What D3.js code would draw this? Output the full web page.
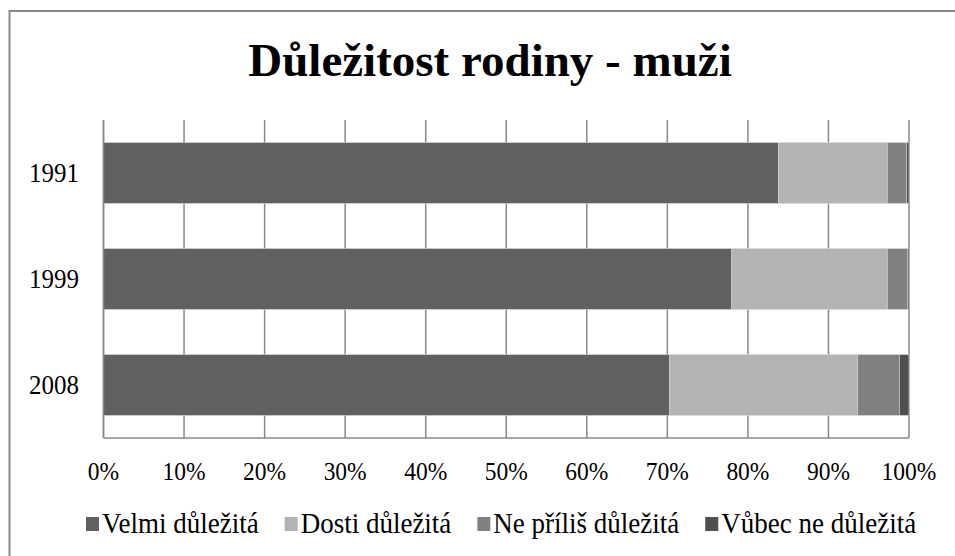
<!DOCTYPE html>
<html>
<head>
<meta charset="utf-8">
<script src="https://cdn.jsdelivr.net/npm/d3@7"></script>
<style>
  body { margin: 0; background: #fff; }
  svg { display: block; }
  text { font-family: "Liberation Serif", "Times New Roman", serif; fill: #000; }
</style>
</head>
<body>
<div id="chart"></div>
<script>
// data (percent of respondents)
const years = ['1991', '1999', '2008'];
const seriesNames = ['Velmi důležitá', 'Dosti důležitá', 'Ne příliš důležitá', 'Vůbec ne důležitá'];
const velmi = [83.8, 78.0, 70.3];
const dosti = [13.5, 19.3, 23.3];
const nePrilis = [2.4, 2.5, 5.2];
const vubec = [0.3, 0.2, 1.2];
const tickValues = [0, 10, 20, 30, 40, 50, 60, 70, 80, 90, 100];
const colors = ['#606060', '#b3b3b3', '#808080', '#4f4f4f'];

const width = 955, height = 556;
const margin = { top: 120, left: 103.5, right: 46, bottom: 118 };

const svg = d3.select('#chart').append('svg')
    .attr('width', width)
    .attr('height', height);

// outer frame, only left and top edges fall inside the picture
svg.append('rect')
    .attr('x', 9.5).attr('y', 11)
    .attr('width', 1000).attr('height', 700)
    .attr('fill', 'none')
    .attr('stroke', '#898989')
    .attr('stroke-width', 2);

svg.append('text')
    .attr('x', 490).attr('y', 76)
    .attr('text-anchor', 'middle')
    .style('font-size', '47px')
    .style('font-weight', 'bold')
    .text('Důležitost rodiny - muži');

const x = d3.scaleLinear().domain([0, 100]).range([margin.left, width - margin.right]);
const y = d3.scaleBand().domain(years)
    .range([margin.top, height - margin.bottom])
    .paddingInner(0.425).paddingOuter(0.2125);

// gridlines
svg.append('g')
    .selectAll('line')
    .data(tickValues)
    .join('line')
    .attr('x1', d => x(d)).attr('x2', d => x(d))
    .attr('y1', margin.top).attr('y2', height - margin.bottom)
    .attr('stroke', '#888')
    .attr('stroke-width', 1.5);

// stacked bars
const stackData = years.map((yr, i) => {
    const vals = [velmi[i], dosti[i], nePrilis[i], vubec[i]];
    const o = { year: yr };
    seriesNames.forEach((s, k) => o[s] = vals[k]);
    return o;
});
const stacked = d3.stack().keys(seriesNames)(stackData);

svg.append('g')
    .selectAll('g')
    .data(stacked)
    .join('g')
    .attr('fill', (d, i) => colors[i])
    .selectAll('rect')
    .data(d => d)
    .join('rect')
    .attr('x', d => x(d[0]))
    .attr('y', d => y(d.data.year))
    .attr('width', d => x(d[1]) - x(d[0]))
    .attr('height', y.bandwidth())
    .attr('stroke', '#d9d9d9')
    .attr('stroke-width', 0.6);

// axis lines
svg.append('line')
    .attr('x1', x(0)).attr('x2', x(100))
    .attr('y1', height - margin.bottom).attr('y2', height - margin.bottom)
    .attr('stroke', '#888').attr('stroke-width', 1.5);
svg.append('line')
    .attr('x1', x(0)).attr('x2', x(0))
    .attr('y1', margin.top).attr('y2', height - margin.bottom)
    .attr('stroke', '#888').attr('stroke-width', 1.5);

// x tick labels (slightly tall glyphs like the original)
svg.append('g')
    .selectAll('text')
    .data(tickValues)
    .join('text')
    .attr('transform', d => `translate(${x(d)},480) scale(1,1.1)`)
    .attr('text-anchor', 'middle')
    .style('font-size', '23.5px')
    .text(d => d + '%');

// y labels
svg.append('g')
    .selectAll('text')
    .data(years)
    .join('text')
    .attr('transform', d => `translate(79,${y(d) + y.bandwidth() / 2 + 8.5}) scale(1,1.05)`)
    .attr('text-anchor', 'end')
    .style('font-size', '25px')
    .text(d => d);

// legend
const legend = svg.append('g');
let lx = 86;
seriesNames.forEach((s, i) => {
    const g = legend.append('g').attr('transform', `translate(${lx},0)`);
    g.append('rect')
        .attr('x', 0).attr('y', 517)
        .attr('width', 13).attr('height', 14)
        .attr('fill', colors[i]);
    const t = g.append('text')
        .attr('transform', 'translate(16,533) scale(1,1.1)')
        .style('font-size', '27px')
        .text(s);
    lx += 16 + t.node().getComputedTextLength() + 26;
});
</script>
</body>
</html>
